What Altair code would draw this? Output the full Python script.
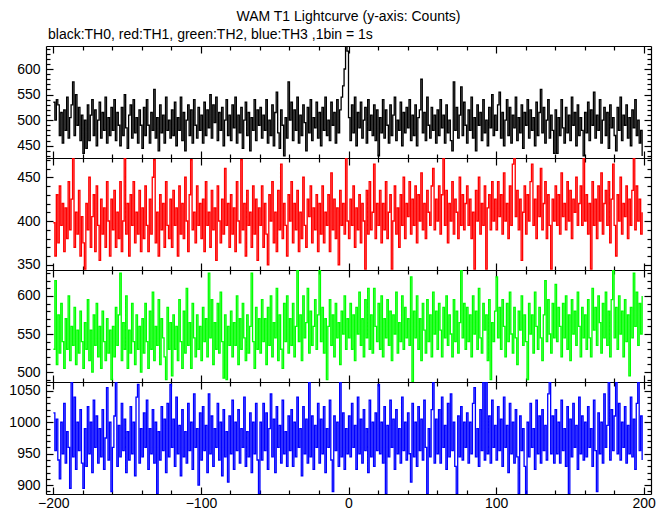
import altair as alt
import pandas as pd

# ---------------- data (1 s bins, t = -200 ... 199) ----------------
time_start = -200

th0 = [535, 500, 540, 530, 470, 515, 455, 520, 480, 545, 465, 505, 530, 575, 470, 550, 490, 525, 460, 510,
       435, 500, 445, 530, 460, 510, 540, 470, 520, 450, 500, 535, 465, 515, 480, 545, 455, 505, 470, 525,
       480, 540, 460, 515, 490, 450, 525, 470, 550, 485, 445, 510, 530, 465, 540, 475, 505, 455, 520, 490,
       445, 525, 470, 540, 490, 455, 515, 480, 560, 465, 505, 440, 530, 475, 510, 455, 545, 480, 500, 465,
       520, 470, 535, 450, 505, 480, 545, 460, 515, 440, 500, 530, 470, 520, 455, 540, 490, 465, 525, 480,
       510, 455, 535, 470, 520, 485, 550, 465, 530, 495, 545, 460, 515, 480, 525, 450, 500, 540, 470, 510,
       460, 530, 485, 545, 455, 510, 475, 525, 445, 500, 535, 470, 515, 440, 505, 480, 540, 460, 520, 490,
       525, 465, 510, 480, 540, 455, 500, 470, 530, 450, 515, 555, 475, 445, 520, 490, 430, 505, 465, 575,
       500, 535, 460, 520, 480, 545, 455, 510, 470, 530, 495, 440, 525, 475, 540, 460, 505, 485, 535, 465,
       515, 450, 525, 480, 545, 470, 500, 460, 535, 490, 515, 455, 540, 475, 520, 545, 567, 600, 700, 635,
       505, 460, 530, 475, 545, 450, 515, 485, 535, 465, 500, 525, 455, 540, 480, 510, 470, 530, 460, 520,
       430, 505, 475, 540, 465, 520, 490, 455, 530, 470, 510, 545, 460, 500, 480, 535, 450, 515, 475, 525,
       485, 540, 460, 510, 470, 530, 450, 505, 520, 580, 475, 515, 460, 545, 490, 465, 525, 480, 510, 455,
       520, 470, 540, 485, 510, 455, 530, 475, 500, 460, 440, 575, 480, 525, 465, 510, 565, 470, 535, 490,
       455, 520, 480, 545, 465, 505, 440, 530, 490, 515, 460, 540, 475, 500, 450, 525, 485, 550, 470, 510,
       480, 530, 555, 465, 515, 450, 500, 540, 470, 525, 455, 510, 485, 545, 460, 505, 475, 530, 445, 515,
       490, 540, 465, 520, 480, 505, 450, 535, 470, 515, 560, 475, 525, 455, 500, 540, 465, 510, 480, 435,
       520, 435, 505, 470, 540, 485, 455, 525, 475, 510, 460, 545, 490, 515, 450, 530, 470, 505, 480, 430,
       515, 475, 535, 460, 520, 490, 555, 465, 510, 480, 540, 455, 500, 525, 470, 515, 445, 530, 485, 505,
       470, 440, 525, 480, 545, 460, 510, 490, 530, 465, 505, 450, 520, 485, 540, 470, 500, 455, 480, 430]

th1 = [398, 360, 430, 375, 440, 395, 420, 365, 415, 380, 445, 390, 425, 472, 370, 410, 385, 435, 360, 405,
       375, 345, 420, 390, 450, 370, 405, 430, 365, 440, 395, 355, 425, 385, 415, 370, 445, 400, 360, 425,
       390, 435, 370, 410, 380, 445, 365, 400, 472, 385, 420, 360, 430, 395, 445, 375, 410, 385, 435, 365,
       415, 380, 440, 395, 365, 425, 385, 450, 470, 375, 410, 360, 430, 390, 420, 370, 445, 395, 380, 425,
       370, 435, 395, 415, 360, 440, 385, 420, 380, 450, 400, 365, 430, 470, 390, 410, 375, 440, 395, 420,
       380, 425, 365, 445, 395, 410, 370, 435, 390, 415, 355, 440, 400, 375, 425, 385, 460, 395, 420, 370,
       430, 385, 415, 365, 445, 400, 375, 470, 390, 420, 360, 435, 395, 410, 370, 440, 385, 425, 355, 415,
       395, 440, 370, 420, 385, 350, 430, 400, 445, 375, 410, 365, 435, 390, 465, 380, 420, 395, 360, 430,
       400, 445, 375, 420, 390, 435, 365, 410, 380, 450, 395, 370, 425, 405, 440, 375, 415, 390, 430, 365,
       420, 385, 440, 375, 410, 395, 430, 365, 455, 390, 425, 380, 415, 350, 435, 395, 420, 385, 472, 400,
       380, 425, 395, 440, 370, 415, 390, 430, 375, 420, 400, 345, 435, 385, 445, 390, 410, 465, 380, 420,
       395, 435, 375, 420, 390, 445, 380, 410, 430, 345, 400, 440, 385, 415, 370, 430, 395, 450, 380, 420,
       405, 445, 385, 425, 395, 440, 375, 430, 400, 455, 390, 420, 380, 435, 410, 395, 440, 460, 390, 425,
       400, 440, 385, 430, 472, 395, 435, 375, 420, 400, 445, 385, 425, 410, 380, 450, 395, 430, 390, 420,
       440, 395, 425, 380, 410, 345, 435, 400, 450, 385, 420, 395, 440, 345, 415, 430, 390, 445, 400, 425,
       390, 445, 405, 430, 385, 455, 400, 420, 380, 440, 395, 465, 472, 405, 435, 390, 425, 355, 410, 440,
       385, 430, 400, 445, 465, 395, 425, 380, 440, 405, 460, 390, 420, 445, 380, 430, 395, 345, 425, 400,
       440, 395, 430, 385, 455, 405, 420, 390, 445, 400, 435, 380, 425, 410, 450, 395, 420, 440, 395, 472,
       400, 430, 385, 420, 345, 445, 395, 425, 380, 440, 400, 455, 385, 420, 435, 395, 445, 375, 425, 465,
       395, 360, 430, 400, 450, 385, 420, 405, 440, 380, 425, 395, 435, 472, 390, 440, 400, 425, 385, 410]

th2 = [530, 620, 510, 575, 525, 590, 540, 505, 570, 530, 600, 515, 560, 535, 585, 510, 555, 525, 580, 540,
       505, 565, 530, 595, 515, 555, 500, 575, 535, 590, 520, 560, 505, 580, 540, 515, 570, 525, 555, 490,
       560, 520, 585, 535, 575, 630, 515, 565, 530, 600, 505, 555, 525, 590, 540, 510, 575, 530, 560, 500,
       570, 525, 590, 540, 505, 580, 530, 605, 515, 560, 535, 595, 510, 570, 545, 520, 490, 585, 530, 565,
       495, 575, 530, 560, 515, 595, 540, 505, 580, 525, 610, 535, 565, 505, 590, 545, 520, 575, 530, 560,
       515, 585, 540, 570, 520, 630, 545, 595, 510, 565, 530, 590, 525, 605, 540, 492, 575, 490, 560, 535,
       580, 520, 565, 535, 600, 510, 570, 530, 590, 545, 515, 575, 525, 560, 630, 540, 505, 585, 530, 570,
       525, 595, 540, 570, 510, 585, 535, 600, 520, 565, 545, 610, 515, 575, 530, 505, 590, 540, 600, 525,
       570, 535, 590, 520, 560, 634, 540, 575, 515, 600, 545, 565, 610, 525, 580, 535, 560, 595, 530, 575,
       634, 540, 585, 525, 570, 490, 560, 595, 535, 575, 520, 590, 545, 565, 510, 580, 550, 600, 530, 570,
       545, 590, 530, 575, 515, 585, 550, 605, 535, 570, 520, 595, 545, 610, 530, 575, 525, 610, 560, 540,
       590, 530, 600, 520, 570, 545, 595, 535, 580, 515, 575, 550, 605, 525, 565, 540, 600, 530, 585, 545,
       570, 535, 625, 487, 580, 545, 600, 530, 570, 515, 590, 555, 525, 595, 540, 575, 520, 605, 550, 580,
       530, 590, 555, 520, 585, 545, 600, 535, 575, 550, 520, 595, 540, 580, 525, 565, 634, 545, 590, 530,
       585, 540, 575, 520, 600, 550, 580, 530, 610, 545, 525, 590, 555, 575, 515, 595, 490, 565, 540, 580,
       625, 545, 585, 530, 595, 560, 520, 590, 540, 605, 550, 525, 585, 545, 510, 580, 555, 600, 535, 575,
       540, 490, 590, 550, 575, 525, 605, 560, 530, 585, 545, 515, 575, 620, 540, 595, 550, 525, 590, 545,
       615, 540, 585, 560, 520, 590, 545, 600, 530, 575, 515, 595, 550, 580, 535, 605, 560, 520, 585, 545,
       575, 530, 595, 545, 520, 610, 555, 585, 535, 600, 565, 525, 590, 545, 605, 535, 580, 520, 595, 634,
       545, 585, 530, 600, 550, 580, 520, 595, 540, 575, 495, 585, 545, 630, 560, 605, 535, 590, 550, 600]

th3 = [1015, 955, 1005, 940, 910, 1000, 950, 1030, 935, 985, 960, 895, 1064, 945, 1040, 925, 1000, 955, 1020, 935,
       895, 990, 930, 1025, 950, 1000, 920, 1035, 960, 1010, 935, 990, 945, 1020, 925, 975, 1055, 940, 1000, 890,
       960, 1010, 1064, 930, 995, 945, 1030, 955, 1005, 920, 985, 940, 1025, 950, 1000, 915, 1040, 1060, 935, 990,
       945, 1015, 960, 1035, 925, 990, 950, 1020, 935, 1000, 886, 985, 940, 1025, 955, 1005, 920, 1030, 945, 1060,
       960, 1005, 930, 1040, 950, 995, 915, 1020, 945, 985, 935, 1030, 955, 1000, 925, 1045, 960, 990, 900, 1015,
       940, 1025, 955, 995, 920, 1045, 950, 1010, 930, 990, 960, 1030, 940, 1000, 915, 1020, 945, 985, 905, 1010,
       950, 1035, 925, 1000, 955, 1020, 935, 990, 960, 1040, 930, 985, 945, 1015, 920, 1000, 950, 1030, 940, 886,
       1000, 940, 1030, 955, 1015, 925, 990, 1045, 945, 1005, 920, 1025, 960, 995, 935, 1035, 950, 985, 930, 1010,
       955, 1020, 930, 1000, 945, 1040, 960, 990, 915, 1025, 950, 1005, 935, 1064, 945, 1010, 925, 995, 960, 1030,
       935, 1005, 950, 1025, 920, 990, 960, 1035, 940, 890, 1010, 955, 1000, 930, 1064, 945, 1015, 925, 990, 950,
       1010, 945, 1030, 960, 995, 925, 1040, 950, 1005, 935, 1020, 955, 990, 920, 1035, 945, 1000, 930, 1015, 955,
       1060, 950, 1000, 935, 1025, 886, 995, 945, 1035, 960, 1005, 925, 1020, 950, 990, 935, 1040, 955, 1000, 940,
       1015, 950, 905, 1030, 945, 1000, 930, 1025, 955, 1005, 940, 1035, 960, 886, 990, 945, 1020, 1064, 935, 1005,
       950, 1020, 935, 1040, 960, 995, 925, 1030, 945, 1045, 955, 1000, 930, 886, 1010, 945, 1025, 940, 1000, 960,
       1015, 935, 1000, 950, 1030, 1055, 945, 990, 930, 1020, 955, 1064, 940, 1064, 950, 1010, 935, 1035, 960, 995,
       940, 1025, 955, 1005, 930, 1040, 960, 995, 920, 1030, 950, 1000, 935, 1020, 945, 886, 1010, 955, 990, 930,
       886, 1000, 945, 1030, 960, 990, 925, 1035, 950, 1010, 935, 1020, 955, 995, 940, 1045, 1064, 950, 1010, 935,
       1020, 950, 1000, 935, 1035, 955, 990, 930, 1025, 886, 1005, 945, 1030, 960, 995, 925, 1040, 950, 1010, 940,
       1000, 945, 1025, 960, 990, 930, 1035, 955, 890, 1015, 950, 1000, 935, 1045, 960, 995, 1064, 940, 1020, 955,
       1010, 1064, 950, 1030, 940, 1000, 960, 1025, 935, 995, 950, 1040, 945, 1005, 925, 1030, 1064, 955, 1010, 940]

# ---------------- axes / tick values ----------------
x_domain = [-205, 205]
x_ticks = [-200, -180, -160, -140, -120, -100, -80, -60, -40, -20, 0,
           20, 40, 60, 80, 100, 120, 140, 160, 180, 200]
x_labels = [-200, -100, 0, 100, 200]

panels = [
    dict(values=th0, color="#000000", domain=[426, 645],
         ticks=[430, 440, 450, 460, 470, 480, 490, 500, 510, 520, 530, 540, 550, 560, 570, 580, 590, 600, 610, 620, 630, 640],
         labels=[450, 500, 550, 600]),
    dict(values=th1, color="#ff0000", domain=[344, 472],
         ticks=[350, 360, 370, 380, 390, 400, 410, 420, 430, 440, 450, 460, 470],
         labels=[350, 400, 450]),
    dict(values=th2, color="#00ff00", domain=[487, 634],
         ticks=[490, 500, 510, 520, 530, 540, 550, 560, 570, 580, 590, 600, 610, 620, 630],
         labels=[500, 550, 600]),
    dict(values=th3, color="#0000ff", domain=[886, 1064],
         ticks=[890, 900, 910, 920, 930, 940, 950, 960, 970, 980, 990, 1000, 1010, 1020, 1030, 1040, 1050, 1060],
         labels=[900, 950, 1000, 1050]),
]

title_text = "WAM T1 Lightcurve (y-axis: Counts)"
subtitle_text = "black:TH0, red:TH1, green:TH2, blue:TH3 ,1bin = 1s"

W = 605
H = 112
FONT = "Liberation Sans"

x_tick_size = {"condition": {"test": "datum.value % 100 === 0", "value": 7}, "value": 4}
y_tick_size = {"condition": {"test": "datum.value % 50 === 0", "value": 7}, "value": 4}


def make_panel(p, bottom, first):
    df = pd.DataFrame({"t": [time_start + i for i in range(len(p["values"]))],
                       "v": p["values"]})
    xs = alt.Scale(domain=x_domain, nice=False, zero=False)
    ys = alt.Scale(domain=p["domain"], nice=False, zero=False)
    base = alt.Chart(df)

    line = base.mark_line(color=p["color"], strokeWidth=1.3, interpolate="step-after", clip=True).encode(
        x=alt.X("t:Q", scale=xs,
                axis=alt.Axis(orient="top", offset=-H, values=x_ticks, tickSize=x_tick_size,
                              labels=False, domain=True, title=None)),
        y=alt.Y("v:Q", scale=ys,
                axis=alt.Axis(orient="left", values=p["labels"], ticks=False, labels=True, format="d",
                              domain=False, labelPadding=6, minExtent=37, maxExtent=37, title=None)),
    )
    frame1 = base.mark_line(strokeOpacity=0, clip=True).encode(
        x=alt.X("t:Q", scale=xs,
                axis=alt.Axis(orient="bottom", offset=-H, values=x_ticks, tickSize=x_tick_size,
                              labels=False, domain=True, title=None)),
        y=alt.Y("v:Q", scale=ys,
                axis=alt.Axis(orient="right", offset=-W, values=p["ticks"], tickSize=y_tick_size,
                              labels=False, domain=True, title=None, minExtent=0)),
    )
    if bottom:
        xax = alt.Axis(orient="bottom", values=x_labels, ticks=False, domain=False,
                       labelPadding=2, labelFlush=False, title=None)
    else:
        xax = None
    frame2 = base.mark_line(strokeOpacity=0, clip=True).encode(
        x=alt.X("t:Q", scale=xs, axis=xax),
        y=alt.Y("v:Q", scale=ys,
                axis=alt.Axis(orient="left", offset=-W, values=p["ticks"], tickSize=y_tick_size,
                              labels=False, domain=True, title=None, minExtent=0)),
    )
    layer = alt.layer(line, frame1, frame2).resolve_axis(x="independent", y="independent")
    props = dict(width=W, height=H)
    if first:
        props["title"] = alt.TitleParams(subtitle_text, anchor="start", frame="group", fontSize=14,
                                         fontWeight="normal", font=FONT, color="black", offset=3, dx=2)
    return layer.properties(**props)


charts = [make_panel(p, i == len(panels) - 1, i == 0) for i, p in enumerate(panels)]

chart = alt.vconcat(*charts, spacing=0, bounds="flush", title=alt.TitleParams(
    title_text, anchor="middle", frame="group", fontSize=14, fontWeight="normal",
    font=FONT, color="black", offset=4)
).properties(
    padding={"left": 0, "top": 2, "right": 5, "bottom": 0}
).configure_view(
    stroke=None
).configure_axis(
    grid=False, labelFont=FONT, labelFontSize=14, labelColor="black",
    tickColor="black", domainColor="black", tickWidth=1.2, domainWidth=1.2
).configure_title(font=FONT)

chart.save("out.html", embed_options={"renderer": "svg", "actions": False})
